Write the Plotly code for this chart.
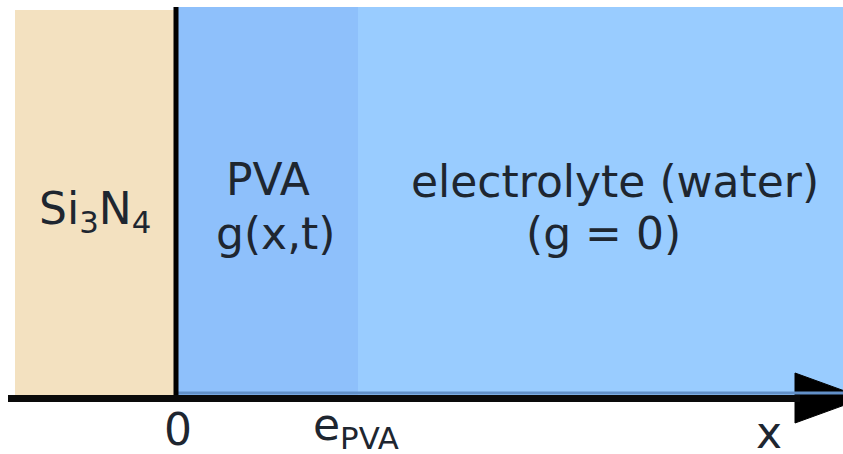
"""Si3N4 / PVA / 전해질 층 구조 모식도.

좌표계는 그림 픽셀 단위(가로 0~843, 세로 0~454, 세로는 아래로 증가)로 잡았다.
"""

import plotly.graph_objects as go

# 층 영역 (좌/우/위/아래 경계)
region_names = ["Si3N4", "PVA", "electrolyte"]
region_x0 = [15, 178, 358]
region_x1 = [176, 358, 843]
region_y0 = [10, 7, 7]
region_y1 = [395, 395, 395]
region_colors = ["#F3E1C0", "#8EC0FB", "#99CCFF"]

# 계면(x = 0) 세로선, x축 및 화살표
interface_x = 176
interface_top = 7
axis_y = 398.5
axis_x_start = 8
axis_x_end = 800
arrow_x = [795, 795, 864, 795]
arrow_y = [373, 423, 398, 373]

# 영역 안 글자
label_text = ["Si<sub>3</sub>N<sub>4</sub>", "PVA", "g(x,t)", "electrolyte (water)", "(g = 0)"]
label_x = [95, 268, 276, 615, 603]
label_y = [211, 179, 233, 181, 233]

# 축 아래 눈금 글자
tick_text = ["0", "e<sub>PVA</sub>", "x"]
tick_x = [178, 356, 769]
tick_y = [429, 427, 432]

FONT = "DejaVu Sans"
TEXT_COLOR = "#1E2630"

fig = go.Figure()

for name, x0, x1, y0, y1, color in zip(region_names, region_x0, region_x1, region_y0, region_y1, region_colors):
    fig.add_shape(
        type="rect", xref="x", yref="y", x0=x0, x1=x1, y0=y0, y1=y1,
        fillcolor=color, line=dict(width=0), layer="below", name=name,
    )

# 파란 영역 아래쪽 진한 테두리
fig.add_shape(
    type="line", xref="x", yref="y", x0=region_x0[1], x1=region_x1[2], y0=393, y1=393,
    line=dict(color="#6290C8", width=3),
)
fig.add_shape(
    type="line", xref="x", yref="y", x0=interface_x, x1=interface_x, y0=interface_top, y1=axis_y,
    line=dict(color="#000000", width=5),
)
fig.add_shape(
    type="line", xref="x", yref="y", x0=axis_x_start, x1=axis_x_end, y0=axis_y, y1=axis_y,
    line=dict(color="#0A0A0A", width=7),
)

fig.add_trace(
    go.Scatter(
        x=arrow_x, y=arrow_y, mode="lines", fill="toself", fillcolor="#000000",
        line=dict(color="#000000", width=1), hoverinfo="skip", showlegend=False,
    )
)

for text, x, y in zip(label_text, label_x, label_y):
    fig.add_annotation(
        x=x, y=y, xref="x", yref="y", text=text, showarrow=False,
        xanchor="center", yanchor="middle", font=dict(family=FONT, size=44, color=TEXT_COLOR),
    )

for text, x, y in zip(tick_text, tick_x, tick_y):
    fig.add_annotation(
        x=x, y=y, xref="x", yref="y", text=text, showarrow=False,
        xanchor="center", yanchor="middle", font=dict(family=FONT, size=44, color=TEXT_COLOR),
    )

fig.update_layout(
    width=843,
    height=454,
    margin=dict(l=0, r=0, t=0, b=0),
    paper_bgcolor="#FFFFFF",
    plot_bgcolor="#FFFFFF",
    showlegend=False,
    xaxis=dict(range=[0, 843], visible=False, fixedrange=True),
    yaxis=dict(range=[454, 0], visible=False, fixedrange=True),
)

# 페이지 기본 여백(8px) 제거, 모드바 숨김
fig.write_html(
    "out.html",
    config={"displayModeBar": False},
    post_script="document.body.style.margin = '0';",
)
